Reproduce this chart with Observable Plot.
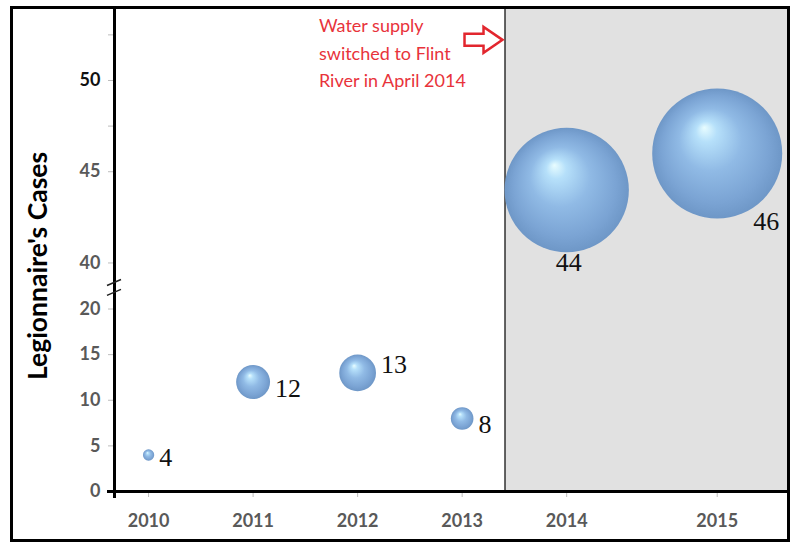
<!DOCTYPE html>
<html><head><meta charset="utf-8">
<script src="https://cdn.jsdelivr.net/npm/d3@7"></script>
<script src="https://cdn.jsdelivr.net/npm/@observablehq/plot@0.6"></script>
<style>
html,body{margin:0;padding:0;background:#fff;}
#chart{width:800px;height:553px;}
</style></head><body><div id="chart"></div>
<script>
// ---- data ----
const years = [2010, 2011, 2012, 2013, 2014, 2015];
const cases = [4, 12, 13, 8, 44, 46];
const yTicks = [0, 5, 10, 15, 20, 40, 45, 50];
const yMinorTicks = [47.5, 52.5];
const xTickLabels = ["2010", "2011", "2012", "2013", "2014", "2015"];
const switchYear = 2013.41; // divider: water source switched to Flint River
const annotationLines = ["Water supply", "switched to Flint", "River in April 2014"];
const yTitle = "Legionnaire's Cases";

// ---- axis breaks / uneven spacing (as in the original) ----
// y: 0..20 normal, 20..40 compressed, 40+ stretched x2
const fy = v => v <= 20 ? v : v >= 40 ? 25.05 + (v - 40) * 2 : 20 + (v - 20) * 5.05 / 20;
// x: 2014..2015 stretched
const fx = t => t <= 2014 ? t : 2014 + (t - 2014) * 1.44;

const data = years.map((year, i) => ({year, cases: cases[i], label: String(cases[i]), xp: fx(year), yp: fy(cases[i])}));

const W = 800, H = 553;
const xDomain = [2009.674, fx(2015.467)];
const yDomain = [0, fy(54)];
const rMax = 65;
const rPx = v => v * rMax / 46;

function labelMark(d) {
  const r = rPx(d.cases);
  let o;
  if (d.year < 2014) {
    const dyMap = {2010: 3, 2011: 7, 2012: -8, 2013: 6};
    o = {dx: r + 5, dy: dyMap[d.year], textAnchor: "start"};
  } else if (d.year === 2014) {
    o = {dx: 2, dy: r + 11, textAnchor: "middle"};
  } else {
    o = {dx: r - 16, dy: r + 3, textAnchor: "middle"};
  }
  return Plot.text([d], {x: "xp", y: "yp", text: "label", ...o,
    fontFamily: "Liberation Serif", fontSize: 26, fontWeight: "normal", fill: "#111"});
}

const allYTicks = [...yTicks, ...yMinorTicks];
const plot = Plot.plot({
  width: W, height: H,
  marginLeft: 114, marginRight: 13, marginTop: 7, marginBottom: 62,
  style: {background: "white", fontFamily: "Lato", fontSize: "18px", fontWeight: "bold", overflow: "visible"},
  x: {domain: xDomain, ticks: years.map(fx), tickFormat: (t, i) => xTickLabels[i] ?? "",
      tickSize: 6, tickPadding: 17, label: null},
  y: {domain: yDomain, ticks: allYTicks.map(fy),
      tickFormat: (t, i) => yTicks.includes(allYTicks[i]) ? String(allYTicks[i]) : "",
      tickSize: 6, tickPadding: 8, label: null},
  r: {type: "linear", domain: [0, 46], range: [0, rMax]},
  marks: [
    Plot.rect([0], {x1: fx(switchYear), x2: xDomain[1], y1: yDomain[0], y2: yDomain[1], fill: "#e1e1e1"}),
    Plot.ruleX([fx(switchYear)], {stroke: "#333", strokeWidth: 1.5}),
    Plot.dot(data, {x: "xp", y: "yp", r: "cases", fill: "url(#sphereGrad)", stroke: "none"}),
    ...data.map(labelMark),
    Plot.text([annotationLines.join("\n")], {x: 2011.63, y: fy(53.72), text: d => d, textAnchor: "start",
      lineAnchor: "top", lineHeight: 1.53, fontSize: 18, fontWeight: "normal", fill: "#e8333b"}),
    Plot.ruleX([xDomain[0]], {stroke: "#000", strokeWidth: 3, insetBottom: -7}),
    Plot.ruleY([0], {stroke: "#000", strokeWidth: 3, insetLeft: -7, insetRight: -2}),
    Plot.frame({stroke: "#000", strokeWidth: 3, insetLeft: -103, insetRight: -1, insetBottom: -49})
  ]
});

document.getElementById("chart").appendChild(plot);
const svg = d3.select(plot.tagName.toLowerCase() === "svg" ? plot : plot.querySelector("svg"));

// sphere gradient
const defs = svg.insert("defs", ":first-child");
const g = defs.append("radialGradient").attr("id", "sphereGrad")
  .attr("cx", 0.5).attr("cy", 0.5).attr("r", 0.5).attr("fx", 0.4).attr("fy", 0.3);
[[0, "#e8fdff"], [0.16, "#b6e0fa"], [0.48, "#90bae5"], [0.82, "#7ba4d4"], [1, "#6e97c7"]]
  .forEach(([o, c]) => g.append("stop").attr("offset", o).attr("stop-color", c));

// axis styling
svg.selectAll('[aria-label$="-axis tick"], .tick line').style("stroke", "#bdbdbd");
svg.selectAll('[aria-label$="-axis tick label"], .tick text').style("fill", "#595959");
svg.selectAll('[aria-label="y-axis tick label"] text, .tick text')
  .filter(function () { return this.textContent === "50"; }).style("fill", "#111");

// y-axis title
svg.append("text").attr("transform", "translate(47,266) rotate(-90)")
  .attr("text-anchor", "middle").attr("font-family", "Lato").attr("font-weight", "bold")
  .attr("font-size", 26.5).attr("fill", "#000").text(yTitle);

// decorations using the scales
const X = plot.scale("x"), Y = plot.scale("y");
const ax = X.apply(xDomain[0]);
[31.3, 27].forEach(v => {
  const yy = Y.apply(fy(v));
  svg.append("line").attr("x1", ax - 7).attr("y1", yy + 3).attr("x2", ax + 7).attr("y2", yy - 3)
    .attr("stroke", "#222").attr("stroke-width", 1.5);
});
const tipX = X.apply(fx(switchYear)) - 2, cy = Y.apply(fy(52.2));
svg.append("path")
  .attr("d", `M${tipX},${cy} L${tipX - 19},${cy - 13} L${tipX - 19},${cy - 6} L${tipX - 38},${cy - 6} L${tipX - 38},${cy + 6} L${tipX - 19},${cy + 6} L${tipX - 19},${cy + 13} Z`)
  .attr("fill", "#fff").attr("stroke", "#e2262e").attr("stroke-width", 2.5);
</script>
</body></html>
